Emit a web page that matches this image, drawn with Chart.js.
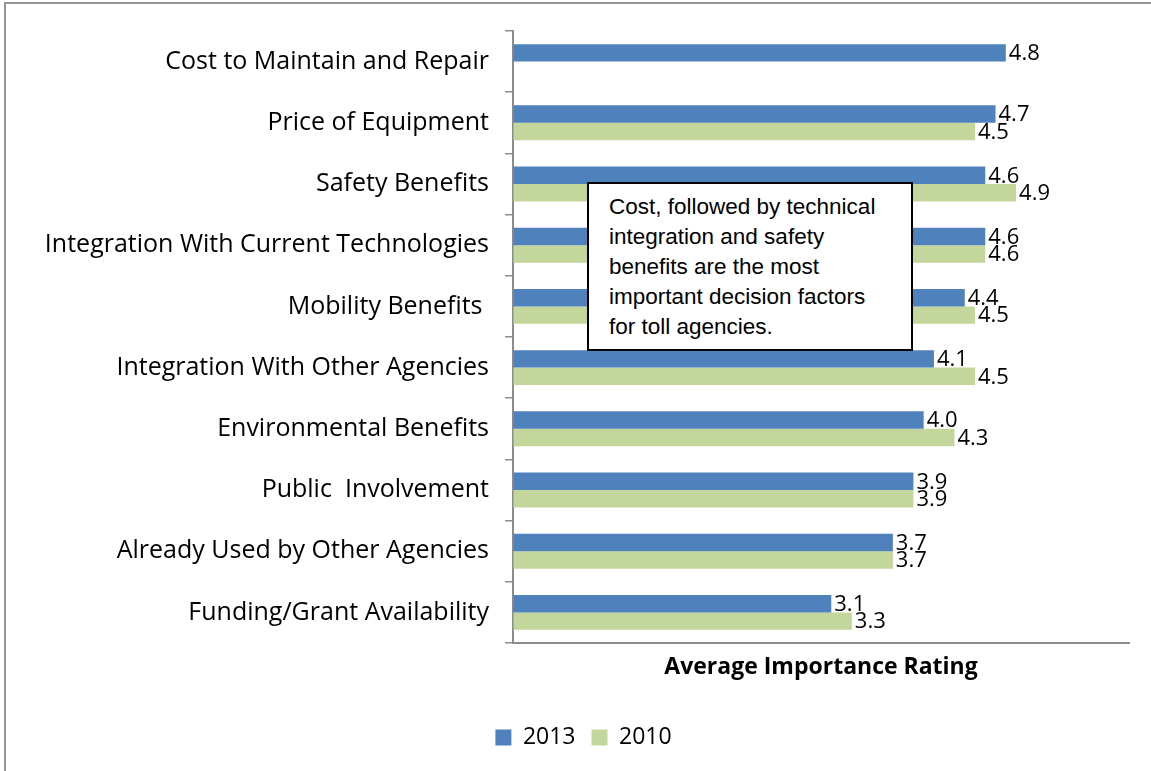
<!DOCTYPE html>
<html>
<head>
<meta charset="utf-8">
<script src="https://cdn.jsdelivr.net/npm/chart.js@4/dist/chart.umd.min.js"></script>
<style>
  html, body { margin: 0; padding: 0; background: #fff; overflow: hidden; }
  #wrap { position: relative; width: 1151px; height: 771px; }
  #frame {
    position: absolute; left: 4px; top: 2px; width: 1300px; height: 900px;
    border-left: 2px solid #959595; border-top: 2px solid #959595;
  }
  #note {
    position: absolute; left: 587px; top: 182px; width: 322px; height: 165px;
    border: 2px solid #000; background: #fff;
    font-family: "Liberation Sans", Arial, sans-serif; font-size: 22.5px; line-height: 30px;
  }
  #note p { margin: 8px 0 0 20px; }
</style>
</head>
<body>
<div id="wrap">
  <div id="frame"></div>
  <canvas id="chart" width="1151" height="771"></canvas>
  <div id="note"><p>Cost, followed by technical<br>integration and safety<br>benefits are the most<br>important decision factors<br>for toll agencies.</p></div>
</div>
<script>
const categories = [
  "Cost to Maintain and Repair",
  "Price of Equipment",
  "Safety Benefits",
  "Integration With Current Technologies",
  "Mobility Benefits ",
  "Integration With Other Agencies",
  "Environmental Benefits",
  "Public  Involvement",
  "Already Used by Other Agencies",
  "Funding/Grant Availability"
];
const values2013 = [4.8, 4.7, 4.6, 4.6, 4.4, 4.1, 4.0, 3.9, 3.7, 3.1];
const values2010 = [null, 4.5, 4.9, 4.6, 4.5, 4.5, 4.3, 3.9, 3.7, 3.3];
const seriesNames = ["2013", "2010"];
const axisTitle = "Average Importance Rating";

const FONT = "'Open Sans', sans-serif";

// value labels at the end of each bar
const barLabels = {
  id: "barLabels",
  afterDatasetsDraw(chart) {
    const ctx = chart.ctx;
    ctx.save();
    ctx.font = "22px " + FONT;
    ctx.fillStyle = "#000";
    ctx.textAlign = "left";
    ctx.textBaseline = "middle";
    chart.data.datasets.forEach((ds, i) => {
      const meta = chart.getDatasetMeta(i);
      meta.data.forEach((bar, j) => {
        const v = ds.data[j];
        if (v === null || v === undefined) return;
        ctx.fillText(v.toFixed(1), bar.x + 3, bar.y + 1);
      });
    });
    ctx.restore();
  }
};

new Chart(document.getElementById("chart"), {
  type: "bar",
  data: {
    labels: categories,
    datasets: [
      {
        label: seriesNames[0],
        data: values2013,
        backgroundColor: "#4F81BD",
        borderWidth: 0,
        categoryPercentage: 0.57,
        barPercentage: 1.0
      },
      {
        label: seriesNames[1],
        data: values2010,
        backgroundColor: "#C3D69B",
        borderWidth: 0,
        categoryPercentage: 0.57,
        barPercentage: 1.0
      }
    ]
  },
  options: {
    indexAxis: "y",
    responsive: false,
    animation: false,
    layout: { padding: { top: 29, right: 22, left: 38, bottom: 12 } },
    plugins: {
      legend: {
        position: "bottom",
        labels: {
          font: { family: FONT, size: 23 },
          color: "#000",
          boxWidth: 16,
          boxHeight: 16,
          padding: 16
        }
      },
      tooltip: { enabled: false }
    },
    scales: {
      x: {
        min: 0,
        max: 6,
        ticks: { display: false },
        grid: { drawOnChartArea: false, drawTicks: false, color: "transparent" },
        border: { display: true, color: "#8c8c8c", width: 2 },
        title: {
          display: true,
          text: axisTitle,
          color: "#000",
          font: { family: FONT, size: 23, weight: "bold" },
          padding: { top: 0, bottom: 29 }
        },
        afterFit(scale) { scale.height = 67; }
      },
      y: {
        ticks: {
          color: "#000",
          font: { family: FONT, size: 25 },
          padding: 16,
          autoSkip: false
        },
        grid: { drawOnChartArea: false, tickLength: 8, color: "#8c8c8c", lineWidth: 1.5 },
        border: { display: true, color: "#8c8c8c", width: 2 },
        afterFit(scale) { scale.width = 475; }
      }
    }
  },
  plugins: [barLabels]
});
</script>
</body>
</html>
